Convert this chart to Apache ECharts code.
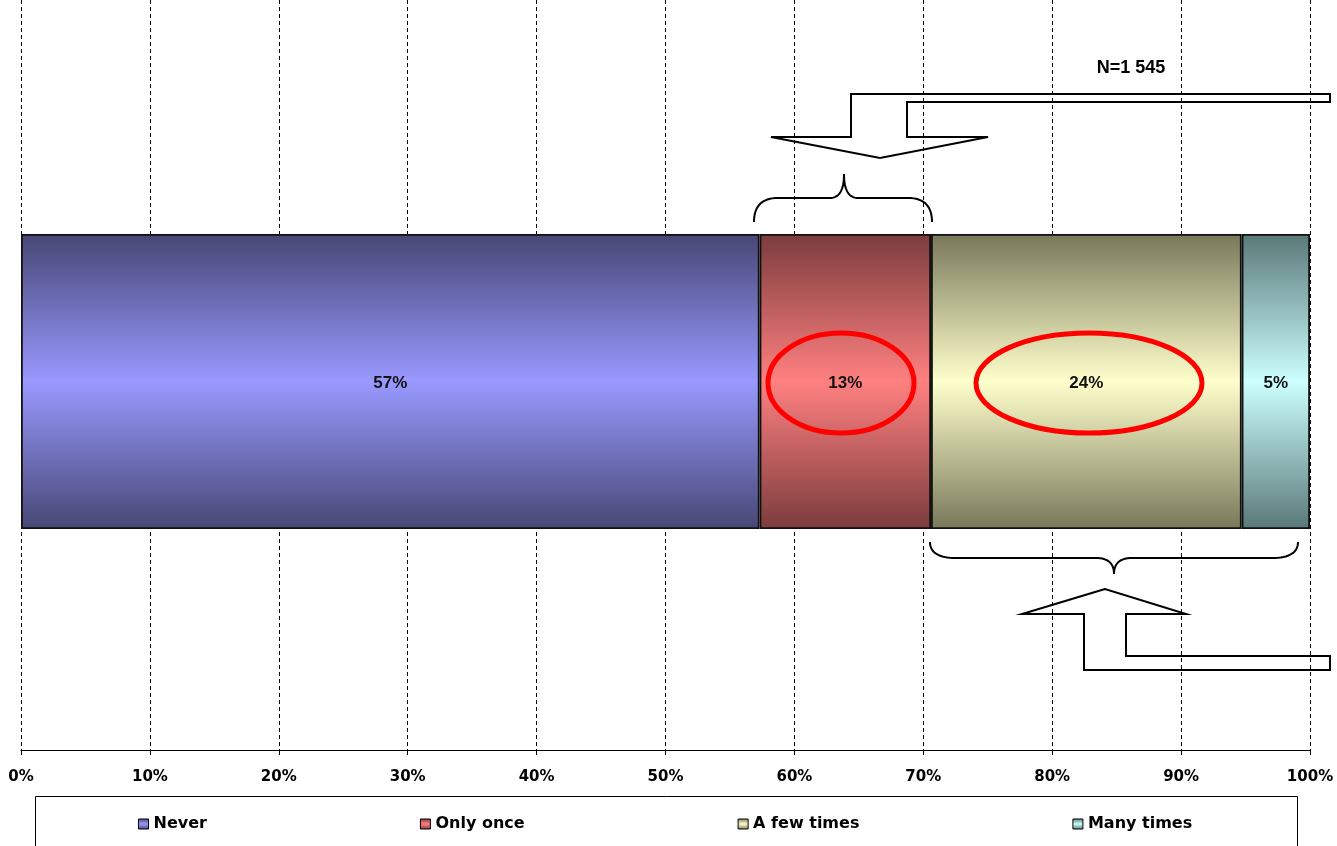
<!DOCTYPE html>
<html>
<head>
<meta charset="utf-8">
<script src="https://cdn.jsdelivr.net/npm/echarts@6/dist/echarts.min.js"></script>
<style>
html,body{margin:0;padding:0;background:#fff;}
#chart{width:1337px;height:846px;}
</style>
</head>
<body>
<div id="chart"></div>
<script>
// ---- data ----
const categories = ['Total'];
const seriesNames = ['Never', 'Only once', 'A few times', 'Many times'];
const valNever = [57.3];
const valOnce = [13.3];
const valFew = [24.1];
const valMany = [5.3];
const tickValues = [0, 10, 20, 30, 40, 50, 60, 70, 80, 90, 100];
const noteText = 'N=1 545';

// ---- styles ----
const edgeColors = ['#474775', '#7b3c3d', '#78785a', '#5a7878'];
const midColors = ['#9999ff', '#ff8080', '#ffffcc', '#ccffff'];
const seriesValues = [valNever, valOnce, valFew, valMany];

function grad(i) {
  return new echarts.graphic.LinearGradient(0, 0, 0, 1, [
    {offset: 0, color: edgeColors[i]},
    {offset: 0.5, color: midColors[i]},
    {offset: 1, color: edgeColors[i]}
  ]);
}

// sample a chain of segments: ['L', x, y] or ['Q', cx, cy, x, y]
function samplePath(start, segs) {
  const pts = [start.slice()];
  let cur = start.slice();
  segs.forEach(s => {
    if (s[0] === 'L') {
      cur = [s[1], s[2]];
      pts.push(cur);
    } else {
      const c = [s[1], s[2]], e = [s[3], s[4]];
      for (let k = 1; k <= 16; k++) {
        const t = k / 16, u = 1 - t;
        pts.push([u * u * cur[0] + 2 * u * t * c[0] + t * t * e[0],
                  u * u * cur[1] + 2 * u * t * c[1] + t * t * e[1]]);
      }
      cur = e;
    }
  });
  return pts;
}

const topBrace = samplePath([754, 222], [['Q', 754, 198, 778, 198], ['L', 830, 198], ['Q', 844, 198, 844, 174], ['Q', 844, 198, 858, 198], ['L', 908, 198], ['Q', 932, 198, 932, 222]]);
const botBrace = samplePath([930, 542], [['Q', 930, 558, 956, 558], ['L', 1096, 558], ['Q', 1114, 558, 1114, 574], ['Q', 1114, 558, 1132, 558], ['L', 1272, 558], ['Q', 1298, 558, 1298, 542]]);

const chart = echarts.init(document.getElementById('chart'), null, {renderer: 'canvas'});

const series = seriesNames.map((name, i) => ({
  name: name,
  type: 'bar',
  stack: 'total',
  xAxisIndex: 1,
  yAxisIndex: 1,
  barWidth: 295,
  data: seriesValues[i],
  itemStyle: {color: grad(i), borderColor: '#111', borderWidth: 1.8},
  emphasis: {disabled: true},
  label: {
    show: true,
    position: 'inside',
    offset: [0, 2],
    formatter: p => Math.round(p.value) + '%',
    fontFamily: 'Liberation Sans',
    fontWeight: 'bold',
    fontSize: 17,
    color: '#111'
  }
}));

const option = {
  backgroundColor: '#ffffff',
  animation: false,
  color: midColors,
  grid: [
    {left: 21, right: 27, top: 0, bottom: 96},
    {left: 21, right: 27, top: 13, bottom: 96}
  ],
  xAxis: [
    {
      gridIndex: 0, type: 'value', min: 0, max: 100, interval: 10,
      axisLine: {show: true, lineStyle: {color: '#000', width: 1}},
      axisTick: {show: true, length: 5, lineStyle: {color: '#000'}},
      axisLabel: {
        formatter: '{value}%', margin: 20, color: '#000',
        fontFamily: 'DejaVu Sans', fontWeight: 'bold', fontSize: 15
      },
      splitLine: {show: true, lineStyle: {color: '#000', type: [4, 3], width: 1}}
    },
    {
      gridIndex: 1, type: 'value', min: 0, max: 100, show: false,
      splitLine: {show: false}
    }
  ],
  yAxis: [
    {gridIndex: 0, type: 'category', data: [''], show: false},
    {gridIndex: 1, type: 'category', data: categories, show: false}
  ],
  legend: {
    data: seriesNames,
    left: 133,
    top: 811,
    itemGap: 213,
    itemWidth: 10,
    itemHeight: 10,
    icon: 'rect',
    itemStyle: {borderColor: '#000', borderWidth: 1},
    textStyle: {fontFamily: 'DejaVu Sans', fontWeight: 'bold', fontSize: 16, color: '#000'},
    selectedMode: false
  },
  series: series,
  graphic: [
    {type: 'rect', silent: true, z: -1, shape: {x: 35.5, y: 796.5, width: 1262, height: 80},
     style: {fill: '#fff', stroke: '#000', lineWidth: 1}},
    {type: 'text', z: 10, style: {text: noteText, x: 1131, y: 68, align: 'center', verticalAlign: 'middle',
      font: 'bold 18px "Liberation Sans"', fill: '#000'}},
    {type: 'ellipse', z: 10, shape: {cx: 841, cy: 383, rx: 73, ry: 50},
     style: {fill: 'none', stroke: '#ff0000', lineWidth: 5}},
    {type: 'ellipse', z: 10, shape: {cx: 1089, cy: 383, rx: 113, ry: 50},
     style: {fill: 'none', stroke: '#ff0000', lineWidth: 5}},
    {type: 'polyline', z: 10, shape: {points: topBrace},
     style: {fill: 'none', stroke: '#000', lineWidth: 2}},
    {type: 'polyline', z: 10, shape: {points: botBrace},
     style: {fill: 'none', stroke: '#000', lineWidth: 2}},
    {type: 'polygon', z: 10, shape: {points: [[1330, 94], [851, 94], [851, 137], [771, 137], [880, 158], [988, 137], [907, 137], [907, 102], [1330, 102]]},
     style: {fill: 'none', stroke: '#000', lineWidth: 2}},
    {type: 'polygon', z: 10, shape: {points: [[1105, 589], [1022, 614], [1084, 614], [1084, 670], [1330, 670], [1330, 656], [1126, 656], [1126, 614], [1186, 614]]},
     style: {fill: 'none', stroke: '#000', lineWidth: 2}}
  ]
};

chart.setOption(option);
</script>
</body>
</html>
